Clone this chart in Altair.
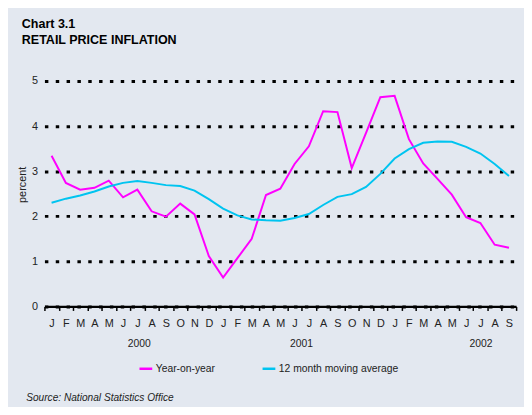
import altair as alt
import pandas as pd

# ---- data ----
month_labels = ["J", "F", "M", "A", "M", "J", "J", "A", "S", "O", "N", "D",
                "J", "F", "M", "A", "M", "J", "J", "A", "S", "O", "N", "D",
                "J", "F", "M", "A", "M", "J", "J", "A", "S"]
yoy = [3.34, 2.74, 2.59, 2.63, 2.79, 2.42, 2.59, 2.11, 1.99, 2.28, 2.04, 1.12,
       0.64, 1.07, 1.50, 2.47, 2.61, 3.16, 3.55, 4.33, 4.31, 3.07, 3.85, 4.64,
       4.67, 3.71, 3.17, 2.83, 2.48, 1.98, 1.85, 1.37, 1.30]
moving_avg = [2.30, 2.39, 2.46, 2.55, 2.66, 2.74, 2.78, 2.74, 2.69, 2.67, 2.57, 2.38,
              2.17, 2.02, 1.93, 1.91, 1.90, 1.96, 2.05, 2.25, 2.43, 2.49, 2.65, 2.94,
              3.28, 3.49, 3.63, 3.66, 3.65, 3.54, 3.39, 3.16, 2.89]
series_names = ["Year-on-year", "12 month moving average"]
series_colors = ["#ff00ff", "#00c4f0"]
year_labels = ["2000", "2001", "2002"]
year_positions = [6.1, 17.45, 30.0]   # in month-index units
y_ticks = [0, 1, 2, 3, 4, 5]

rows = []
for i in range(len(month_labels)):
    rows.append({"m": i, "series": series_names[0], "v": yoy[i]})
    rows.append({"m": i, "series": series_names[1], "v": moving_avg[i]})
df = pd.DataFrame(rows)

n = len(month_labels)
xscale = alt.Scale(domain=[-0.5, n - 0.5], nice=False, zero=False)
FONT = "Liberation Sans"

month_js = "[" + ",".join("'%s'" % m for m in month_labels) + "]"
year_expr = "".join(
    "datum.value == %s ? '%s' : " % (p, y) for p, y in zip(year_positions, year_labels)
) + "''"

base = alt.Chart(df)

lines = base.mark_line(strokeWidth=2).encode(
    x=alt.X("m:Q", scale=xscale, axis=alt.Axis(
        orient="bottom", values=[i - 0.5 for i in range(n + 1)], labels=False,
        ticks=True, tickSize=4, tickWidth=1.5, tickColor="black",
        domainColor="black", domainWidth=2.3, grid=False, title=None)),
    y=alt.Y("v:Q", scale=alt.Scale(domain=[0, 5], nice=False, zero=True), axis=alt.Axis(
        values=y_ticks, grid=True, gridDash=[3.5, 7.5], gridWidth=3, gridColor="black",
        gridOpacity=1, domain=False, ticks=False, labelPadding=7, labelFontSize=11,
        labelColor="#222222", labelFont=FONT, title="percent", titleFont=FONT,
        titleFontSize=11, titleFontWeight="normal", titleColor="#222222",
        titleAngle=270, titleX=-19, titleY=105, titleAlign="center",
        titleBaseline="alphabetic")),
    color=alt.Color("series:N", sort=series_names,
                    scale=alt.Scale(domain=series_names, range=series_colors),
                    legend=alt.Legend(orient="none", legendX=95, legendY=284,
                                      direction="horizontal", title=None,
                                      symbolType="stroke", symbolSize=169,
                                      symbolStrokeWidth=2.5, labelFont=FONT,
                                      labelFontSize=10.5, labelColor="#222222",
                                      labelOffset=2, columnPadding=42, padding=0)),
)

month_axis = base.mark_point(opacity=0).encode(
    x=alt.X("m:Q", scale=xscale, axis=alt.Axis(
        orient="bottom", values=list(range(n)), labelExpr=month_js + "[datum.value]",
        ticks=False, domain=False, grid=False, labelPadding=20.6,
        labelBaseline="alphabetic", labelFont=FONT, labelFontSize=11,
        labelColor="#222222", labelOverlap=False, labelFlush=False, title=None)),
)

year_axis = base.mark_point(opacity=0).encode(
    x=alt.X("m:Q", scale=xscale, axis=alt.Axis(
        orient="bottom", values=year_positions, labelExpr=year_expr,
        ticks=False, domain=False, grid=False, labelPadding=40.6,
        labelBaseline="alphabetic", labelFont=FONT, labelFontSize=10.5,
        labelColor="#222222", labelOverlap=False, labelFlush=False,
        title="Source: National Statistics Office", titleFont=FONT,
        titleFontSize=10.3, titleFontStyle="italic", titleFontWeight="normal",
        titleColor="#222222", titleX=-19, titleY=95.6, titleAlign="left",
        titleBaseline="alphabetic")),
)

chart = alt.layer(lines, month_axis, year_axis).resolve_axis(
    x="independent"
).properties(
    width=479, height=229,
    autosize=alt.AutoSizeParams(type="none"),
    padding={"left": 37, "top": 71, "right": 8, "bottom": 99},
    title=alt.TitleParams(
        text="Chart 3.1", subtitle="RETAIL PRICE INFLATION", anchor="start",
        frame="group", orient="top", dx=-23, offset=29, font=FONT, fontSize=12.7,
        fontWeight="bold", color="black", subtitleFont=FONT, subtitleFontSize=12.7,
        subtitleFontWeight="bold", subtitleColor="black", subtitlePadding=3),
).configure(
    background="#e3e8f0"
).configure_view(stroke=None)

chart.save("out.html", embed_options={"renderer": "svg", "actions": False})
